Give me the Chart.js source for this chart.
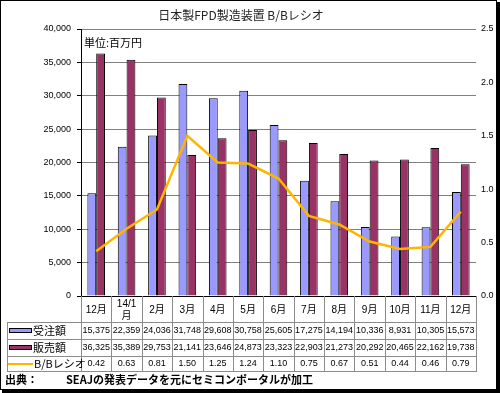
<!DOCTYPE html>
<html>
<head>
<meta charset="utf-8">
<script src="https://cdn.jsdelivr.net/npm/chart.js@4"></script>
<style>
  html, body { margin: 0; padding: 0; background: #fff; }
  #wrap { width: 500px; height: 393px; position: relative; }
</style>
</head>
<body>
<div id="wrap"><canvas id="c" width="500" height="393"></canvas></div>
<script>
// データ（単位：百万円）
const months = ["12月", ["14/1", "月"], "2月", "3月", "4月", "5月", "6月", "7月", "8月", "9月", "10月", "11月", "12月"];
const juchu = [15375, 22359, 24036, 31748, 29608, 30758, 25605, 17275, 14194, 10336, 8931, 10305, 15573];
const hanbai = [36325, 35389, 29753, 21141, 23646, 24873, 23323, 22903, 21273, 20292, 20465, 22162, 19738];
const bbRatio = [0.42, 0.63, 0.81, 1.50, 1.25, 1.24, 1.10, 0.75, 0.67, 0.51, 0.44, 0.46, 0.79];
const seriesNames = ["受注額", "販売額", "B/Bレシオ"];
const leftTicks = [0, 40000, 5000];
const rightTicks = [0, 2.5, 0.5];

const COL_BLUE = "#9999FF";
const COL_RED = "#993366";
const COL_LINE = "#FFB400";
const FONT = '"Liberation Sans", "Noto Sans CJK JP", sans-serif';
const FONT_JP = '"Noto Sans CJK JP", sans-serif';

const fmt = (v) => v.toLocaleString("en-US");

// 表・タイトル・出典などを描画するプラグイン
const tablePlugin = {
  id: "dataTable",
  afterDraw(chart) {
    const ctx = chart.ctx;
    const area = chart.chartArea;
    const n = months.length;
    const w = (area.right - area.left) / n;
    const tableLeft = 7;
    const rowY = [area.bottom, 322, 339, 356, 371];

    ctx.save();

    // タイトル
    ctx.fillStyle = "#222";
    ctx.font = "12px " + FONT_JP;
    ctx.textAlign = "center";
    ctx.textBaseline = "middle";
    ctx.fillText("日本製FPD製造装置 B/Bレシオ", 241, 15);

    // 単位
    ctx.textAlign = "left";
    ctx.font = "11px " + FONT_JP;
    ctx.fillStyle = "#000";
    ctx.fillText("単位:百万円", 84, 43);

    // 表の罫線
    ctx.strokeStyle = "#8c8c8c";
    ctx.lineWidth = 1;
    ctx.beginPath();
    for (let k = 0; k <= n; k++) {
      const x = Math.round(area.left + k * w) + 0.5;
      ctx.moveTo(x, rowY[0]);
      ctx.lineTo(x, rowY[4]);
    }
    ctx.moveTo(tableLeft + 0.5, rowY[1]);
    ctx.lineTo(tableLeft + 0.5, rowY[4]);
    for (let r = 1; r < rowY.length; r++) {
      ctx.moveTo(tableLeft, rowY[r] + 0.5);
      ctx.lineTo(Math.round(area.right) + 1, rowY[r] + 0.5);
    }
    ctx.stroke();

    // 月ラベル
    ctx.fillStyle = "#000";
    ctx.textAlign = "center";
    ctx.font = "10px " + FONT;
    months.forEach((m, i) => {
      const x = chart.scales.x.getPixelForValue(i);
      if (Array.isArray(m)) {
        ctx.fillText(m[0], x, 304);
        ctx.fillText(m[1], x, 316);
      } else {
        ctx.fillText(m, x, 310);
      }
    });

    // 数値
    ctx.font = "9px " + FONT;
    const rows = [juchu.map(fmt), hanbai.map(fmt), bbRatio.map((v) => v.toFixed(2))];
    rows.forEach((vals, r) => {
      const cy = (rowY[r + 1] + rowY[r + 2]) / 2 + 0.5;
      vals.forEach((v, i) => {
        ctx.fillText(v, chart.scales.x.getPixelForValue(i), cy);
      });
    });

    // 凡例キーと系列名
    ctx.textAlign = "left";
    ctx.font = "11px " + FONT_JP;
    const keyColors = [COL_BLUE, COL_RED];
    seriesNames.forEach((name, r) => {
      const cy = (rowY[r + 1] + rowY[r + 2]) / 2 + 0.5;
      if (r < 2) {
        ctx.fillStyle = keyColors[r];
        ctx.fillRect(9, cy - 3, 23, 5);
        ctx.strokeStyle = "#000";
        ctx.strokeRect(9.5, cy - 2.5, 22, 4);
      } else {
        ctx.strokeStyle = COL_LINE;
        ctx.lineWidth = 2;
        ctx.beginPath();
        ctx.moveTo(8, cy);
        ctx.lineTo(33, cy);
        ctx.stroke();
        ctx.lineWidth = 1;
      }
      ctx.fillStyle = "#000";
      ctx.fillText(name, r < 2 ? 33 : 34, cy);
    });

    // 出典
    ctx.font = "bold 11px " + FONT_JP;
    ctx.fillText("出典：", 5, 380);
    ctx.fillText("SEAJの発表データを元にセミコンポータルが加工", 66, 380);

    // 外枠
    ctx.strokeStyle = "#000";
    ctx.lineWidth = 1;
    ctx.strokeRect(0.5, 0.5, 496, 389);
    ctx.fillStyle = "#000";
    ctx.fillRect(497, 2, 3, 391);
    ctx.fillRect(2, 390, 498, 3);

    ctx.restore();
  },
};

const chart = new Chart(document.querySelector("#c"), {
  data: {
    labels: months,
    datasets: [
      {
        type: "line",
        label: seriesNames[2],
        data: bbRatio,
        yAxisID: "y1",
        borderColor: COL_LINE,
        backgroundColor: COL_LINE,
        borderWidth: 2.5,
        pointRadius: 0,
        tension: 0,
        order: 0,
      },
      {
        type: "bar",
        label: seriesNames[0],
        data: juchu,
        yAxisID: "y",
        backgroundColor: COL_BLUE,
        borderColor: "#000",
        borderWidth: 1,
        categoryPercentage: 0.58,
        barPercentage: 1.0,
        order: 1,
      },
      {
        type: "bar",
        label: seriesNames[1],
        data: hanbai,
        yAxisID: "y",
        backgroundColor: COL_RED,
        borderColor: "#000",
        borderWidth: 1,
        categoryPercentage: 0.58,
        barPercentage: 1.0,
        order: 1,
      },
    ],
  },
  options: {
    responsive: false,
    animation: false,
    layout: { padding: { top: 29, left: 0, right: 0, bottom: 0 } },
    plugins: {
      legend: { display: false },
      tooltip: { enabled: false },
      title: { display: false },
    },
    scales: {
      x: {
        offset: true,
        grid: { display: false },
        border: { display: true, color: "#000" },
        ticks: { display: false },
        afterFit(scale) {
          scale.height = 97;
        },
      },
      y: {
        position: "left",
        min: leftTicks[0],
        max: leftTicks[1],
        ticks: {
          stepSize: leftTicks[2],
          color: "#000",
          font: { size: 9, family: FONT },
          padding: 6,
          callback: (v) => fmt(v),
        },
        grid: { color: "#808080", tickLength: 4, tickColor: "#000" },
        border: { display: true, color: "#000" },
        afterFit(scale) {
          scale.width = 81;
        },
      },
      y1: {
        position: "right",
        min: rightTicks[0],
        max: rightTicks[1],
        ticks: {
          stepSize: rightTicks[2],
          color: "#000",
          font: { size: 9, family: FONT },
          padding: 5,
          callback: (v) => v.toFixed(1),
        },
        grid: { display: false, drawTicks: false },
        border: { display: false },
        afterFit(scale) {
          scale.width = 24;
        },
      },
    },
  },
  plugins: [tablePlugin],
});
</script>
</body>
</html>
